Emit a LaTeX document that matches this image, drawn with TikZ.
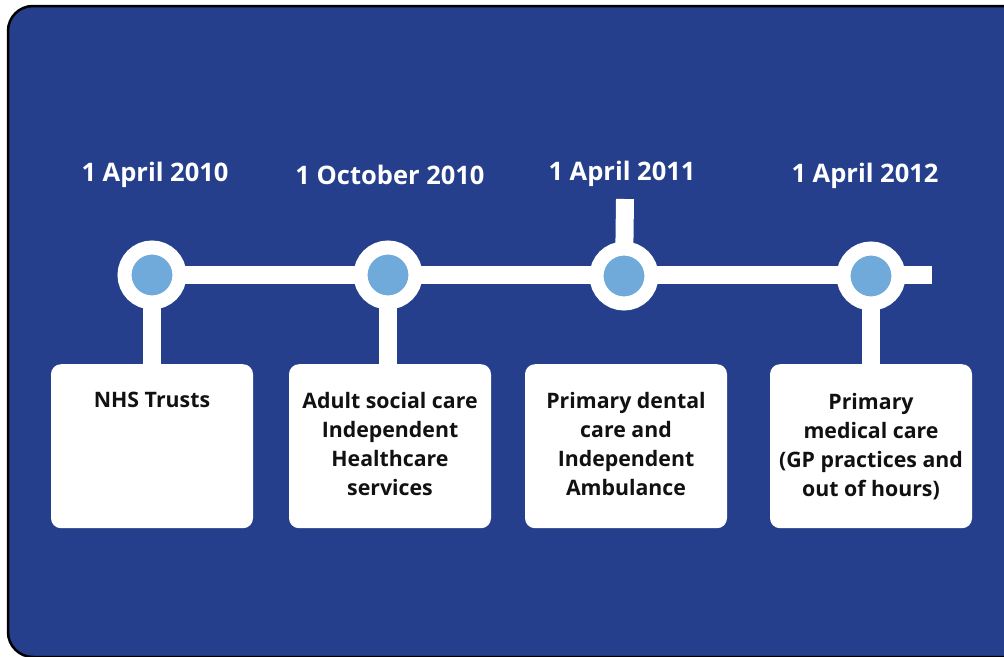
\documentclass[tikz,border=0pt]{standalone}
\usepackage{fontspec}
\setmainfont{Open Sans}
\usetikzlibrary{positioning}
\definecolor{panelblue}{RGB}{37,63,140}
\definecolor{dotblue}{RGB}{111,170,219}
\definecolor{inkblack}{RGB}{17,17,17}
\begin{document}
\begin{tikzpicture}[x=1pt, y=-1pt,
					bar/.style={white, line width=18pt},
					dot/.style={circle, fill=dotblue, draw=white, line width=14pt, minimum size=55pt, inner sep=0pt},
					box/.style={rectangle, rounded corners=10pt, fill=white, minimum width=202pt, minimum height=164pt, anchor=north, inner sep=0pt},
					boxtext/.style={anchor=north, align=center, text=inkblack, font=\fontsize{21.3}{29}\selectfont\bfseries},
					date/.style={text=white, font=\fontsize{25.5}{29}\selectfont\bfseries},
				]
			        \useasboundingbox (0,0) rectangle (1004,656);
			        \draw[fill=panelblue, line width=2.5pt, rounded corners=25pt] (8,6) rectangle (1030,657);

			        % boxes
			        \node[box] (b1) at (152,364) {};
			        \node[box] (b2) at (390,364) {};
			        \node[box] (b3) at (626,364) {};
			        \node[box] (b4) at (871,364) {};

			        \coordinate (t1) at (152,275);
			        \coordinate (t2) at (388,275);
			        \coordinate (t3) at (624,276);
			        \coordinate (t4) at (871,276);
			        \coordinate (lineend) at (932,275);
			        \coordinate (stemtop) at (625,199);

			        % timeline
			        \draw[bar] (t1) -- (lineend);
			        \draw[bar] (t1) -- (t1 |- b1.north);
			        \draw[bar] (t2) -- (t2 |- b2.north);
			        \draw[bar] (t3) -- (stemtop);
			        \draw[bar] (t4) -- (t4 |- b4.north);

			        \node[dot] (c1) at (t1) {};
			        \node[dot] (c2) at (t2) {};
			        \node[dot] (c3) at (t3) {};
			        \node[dot] (c4) at (t4) {};

			        \node[date] (d1) at (155,175) {1 April 2010};
			        \node[date] (d2) at (390,175) {1 October 2010};
			        \node[date] (d3) at (622,174) {1 April 2011};
			        \node[date] (d4) at (865,176) {1 April 2012};

			        \node[boxtext] (n1) at ([yshift=-25pt]b1.north) {NHS Trusts};
			        \node[boxtext] (n2) at ([yshift=-25pt]b2.north) {Adult social care\\Independent\\Healthcare\\services};
			        \node[boxtext] (n3) at ([yshift=-25pt]b3.north) {Primary dental\\care and\\Independent\\Ambulance};
			        \node[boxtext] (n4) at ([yshift=-26pt]b4.north) {Primary\\medical care\\(GP practices and\\out of hours)};
			    \end{tikzpicture}
\end{document}
